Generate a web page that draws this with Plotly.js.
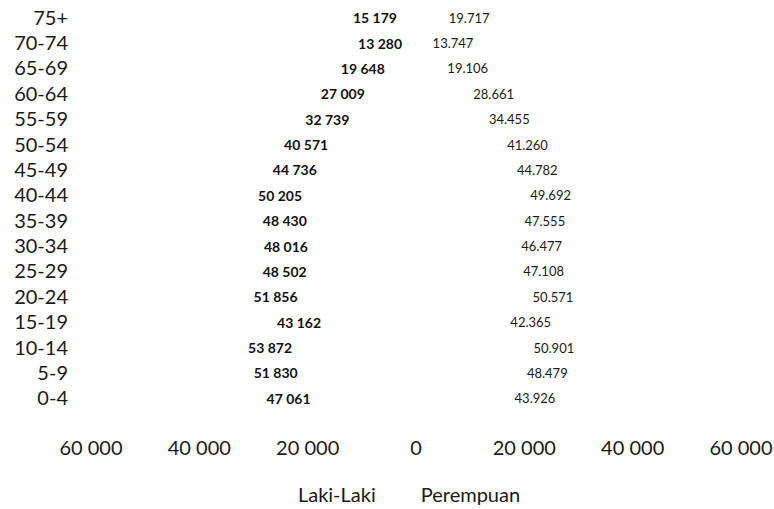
<!DOCTYPE html>
<html>
<head>
<meta charset="utf-8">
<script src="https://cdn.plot.ly/plotly-3.0.1.min.js"></script>
<style>html,body{margin:0;padding:0;background:#fff;}#chart{width:774px;height:509px;}</style>
</head>
<body>
<div id="chart"></div>
<script>
// Age groups, youngest first (drawn bottom to top)
const ageGroups = ["0-4","5-9","10-14","15-19","20-24","25-29","30-34","35-39","40-44","45-49","50-54","55-59","60-64","65-69","70-74","75+"];
// Laki-Laki (male) population
const maleValues = [47061,51830,53872,43162,51856,48502,48016,48430,50205,44736,40571,32739,27009,19648,13280,15179];
// Perempuan (female) population
const femaleValues = [43926,48479,50901,42365,50571,47108,46477,47555,49692,44782,41260,34455,28661,19106,13747,19717];
// x-axis ticks
const xTickValues = [-60000,-40000,-20000,0,20000,40000,60000];
const xTickLabels = ["60 000","40 000","20 000","0","20 000","40 000","60 000"];

function group(v, sep){ return String(v).replace(/\B(?=(\d{3})+(?!\d))/g, sep); }

const male = {
  type: 'bar', orientation: 'h', name: 'Laki-Laki',
  y: ageGroups, x: maleValues.map(v => -v),
  text: maleValues.map(v => group(v, ' ')),
  textposition: 'inside', insidetextanchor: 'middle', textangle: 0,
  textfont: {family: 'Lato', size: 14, weight: 'bold', color: '#111'},
  marker: {color: '#ffffff', line: {width: 0}},
  hoverinfo: 'skip'
};
const female = {
  type: 'bar', orientation: 'h', name: 'Perempuan',
  y: ageGroups, x: femaleValues,
  text: femaleValues.map(v => group(v, '.')),
  textposition: 'inside', insidetextanchor: 'middle', textangle: 0,
  textfont: {family: 'Lato', size: 13, color: '#1a1a1a'},
  marker: {color: '#ffffff', line: {width: 0}},
  hoverinfo: 'skip'
};

const layout = {
  width: 774, height: 509,
  margin: {l: 91, r: 33, t: 5, b: 98, pad: 0, autoexpand: false},
  paper_bgcolor: '#ffffff', plot_bgcolor: '#ffffff',
  barmode: 'overlay', bargap: 0.08,
  font: {family: 'Lato', color: '#1a1a1a'},
  xaxis: {
    range: [-60000, 60000], tickvals: xTickValues, ticktext: xTickLabels,
    showgrid: false, zeroline: false, showline: false, ticks: '',
    ticklabelstandoff: 23, tickfont: {family: 'Lato', size: 20, color: '#1a1a1a'}
  },
  yaxis: {
    type: 'category', range: [-0.5, 15.5],
    showgrid: false, zeroline: false, showline: false, ticks: '',
    ticklabelstandoff: 22, tickfont: {family: 'Lato', size: 20, color: '#1a1a1a'}
  },
  showlegend: true,
  legend: {
    orientation: 'h', x: 0.463, xanchor: 'center', y: -0.204, yanchor: 'middle',
    font: {family: 'Lato', size: 20, color: '#1a1a1a'}, bgcolor: 'rgba(0,0,0,0)',
    itemclick: false
  }
};

Plotly.newPlot('chart', [male, female], layout, {displayModeBar: false, staticPlot: true});
</script>
</body>
</html>
